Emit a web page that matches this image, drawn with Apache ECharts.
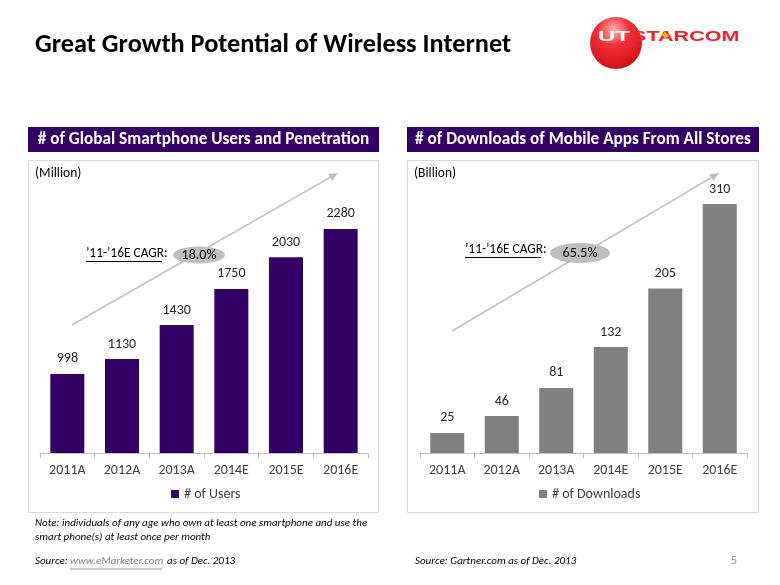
<!DOCTYPE html>
<html><head><meta charset="utf-8">
<script src="https://cdn.jsdelivr.net/npm/echarts@6/dist/echarts.min.js"></script>
<style>html,body{margin:0;padding:0;background:#fff}#c{width:780px;height:585px}</style>
</head><body><div id="c"></div>
<script>
const categories = ['2011A','2012A','2013A','2014E','2015E','2016E'];
const users = [998,1130,1430,1750,2030,2280];
const downloads = [25,46,81,132,205,310];
const usersName = '# of Users';
const downloadsName = '# of Downloads';
const usersCagr = '18.0%';
const downloadsCagr = '65.5%';

const F = 'Carlito, Lato, "Open Sans", sans-serif';
const chart = echarts.init(document.getElementById('c'), null, {renderer:'canvas'});

function arrow(x1,y1,x2,y2){
  const a = Math.atan2(y2-y1,x2-x1), L=9, W=4;
  const bx = x2 - L*Math.cos(a), by = y2 - L*Math.sin(a);
  return [
    {type:'line', shape:{x1,y1,x2:bx,y2:by}, style:{stroke:'#BFBFBF', lineWidth:1.5}, z:1},
    {type:'polygon', shape:{points:[[x2,y2],[bx+W*Math.sin(a),by-W*Math.cos(a)],[bx-W*Math.sin(a),by+W*Math.cos(a)]]}, style:{fill:'#BFBFBF'}, z:1}
  ];
}

const LF = 'bold 15px "Liberation Sans", Arial, sans-serif';
const graphics = [
  {type:'text', left:35, top:32, style:{text:'Great Growth Potential of Wireless Internet', font:'bold 26.3px '+F, fill:'#000'}},
  // logo
  {type:'circle', shape:{cx:616, cy:43, r:26}, style:{fill:{type:'radial',x:0.45,y:0.25,r:0.85,colorStops:[{offset:0,color:'#FFB3AE'},{offset:0.35,color:'#F0323A'},{offset:0.8,color:'#D2161C'},{offset:1,color:'#B01015'}]}}},
  {type:'text', x:598, y:37, scaleX:1.6, style:{text:'UT', font:LF, fill:'#fff', verticalAlign:'middle'}, z:5},
  {type:'text', x:632, y:37, scaleX:1.44, style:{text:'STARCOM', font:LF, fill:'#E8262B', verticalAlign:'middle'}, z:5},
  {type:'polygon', shape:{points:[[665,30],[666.3,33.7],[670,35],[666.3,36.3],[665,40],[663.7,36.3],[660,35],[663.7,33.7]]}, style:{fill:'#F5B800'}, z:6},
  // headers
  {type:'rect', shape:{x:28,y:127,width:351,height:25}, style:{fill:'#330066'}},
  {type:'text', x:203.5, y:139.5, style:{text:'# of Global Smartphone Users and Penetration', font:'bold 17.2px '+F, fill:'#fff', align:'center', verticalAlign:'middle'}},
  {type:'rect', shape:{x:407,y:127,width:352,height:25}, style:{fill:'#330066'}},
  {type:'text', x:583, y:139.5, style:{text:'# of Downloads of Mobile Apps From All Stores', font:'bold 17.2px '+F, fill:'#fff', align:'center', verticalAlign:'middle'}},
  // chart boxes
  {type:'rect', shape:{x:28.5,y:160.5,width:350,height:352}, style:{fill:'none', stroke:'#D9D9D9', lineWidth:1}},
  {type:'rect', shape:{x:407.5,y:160.5,width:351,height:352}, style:{fill:'none', stroke:'#D9D9D9', lineWidth:1}},
  {type:'text', left:35, top:167, style:{text:'(Million)', font:'13.5px '+F, fill:'#000'}},
  {type:'text', left:414, top:167, style:{text:'(Billion)', font:'13.5px '+F, fill:'#000'}},
  ...arrow(72,325,338,173),
  ...arrow(452,331,719,173),
  // CAGR
  {type:'text', x:86, y:254, style:{text:'\u201911-\u201916E CAGR:', font:'13.4px '+F, fill:'#000', verticalAlign:'middle'}},
  {type:'line', shape:{x1:86,y1:261.5,x2:162,y2:261.5}, style:{stroke:'#000', lineWidth:1}},
  {type:'ellipse', shape:{cx:199,cy:255,rx:26,ry:8.5}, style:{fill:'#BFBFBF'}, z:3},
  {type:'text', x:199, y:255, style:{text:usersCagr, font:'14px '+F, fill:'#000', align:'center', verticalAlign:'middle'}, z:4},
  {type:'text', x:465, y:250, style:{text:'\u201911-\u201916E CAGR:', font:'13.4px '+F, fill:'#000', verticalAlign:'middle'}},
  {type:'line', shape:{x1:465,y1:257.5,x2:541,y2:257.5}, style:{stroke:'#000', lineWidth:1}},
  {type:'ellipse', shape:{cx:580,cy:253,rx:30,ry:10}, style:{fill:'#BFBFBF'}, z:3},
  {type:'text', x:580, y:253, style:{text:downloadsCagr, font:'14px '+F, fill:'#000', align:'center', verticalAlign:'middle'}, z:4},
  // notes
  {type:'text', left:35, top:516, style:{text:'Note: individuals of any age who own at least one smartphone and use the\nsmart phone(s) at least once per month', font:'italic 11px '+F, fill:'#000', lineHeight:14}},
  {type:'text', left:35, top:556, style:{text:'Source: ', font:'italic 11px '+F, fill:'#000'}},
  {type:'text', left:70, top:556, style:{text:'www.eMarketer.com', font:'italic 11px '+F, fill:'#7F7F7F'}},
  {type:'line', shape:{x1:70,y1:569,x2:162,y2:569}, style:{stroke:'#7F7F7F', lineWidth:0.8}},
  {type:'text', left:167, top:556, style:{text:'as of Dec. 2013', font:'italic 11px '+F, fill:'#000'}},
  {type:'text', left:415, top:556, style:{text:'Source: Gartner.com as of Dec. 2013', font:'italic 11px '+F, fill:'#000'}},
  {type:'text', left:731, top:555, style:{text:'5', font:'12px '+F, fill:'#8C8C8C'}}
];

const axisCommon = {
  type:'category', data:categories,
  axisLine:{lineStyle:{color:'#BFBFBF'}},
  axisTick:{show:true, alignWithLabel:false, length:5, lineStyle:{color:'#BFBFBF'}},
  axisLabel:{color:'#404040', fontSize:14, fontFamily:F, margin:10}
};

const legendText = {color:'#404040', fontSize:14, fontFamily:F};

chart.setOption({
  animation:false,
  textStyle:{fontFamily:F},
  grid:[
    {left:40, top:204, width:328, height:249},
    {left:420, top:172, width:327, height:281}
  ],
  xAxis:[
    Object.assign({gridIndex:0}, axisCommon),
    Object.assign({gridIndex:1}, axisCommon)
  ],
  yAxis:[
    {gridIndex:0, type:'value', min:300, max:2500, show:false, splitLine:{show:false}},
    {gridIndex:1, type:'value', min:0, max:350, show:false, splitLine:{show:false}}
  ],
  legend:[
    {data:[usersName], left:171, top:487, padding:0, icon:'rect', itemWidth:8, itemHeight:8, itemGap:4, textStyle:legendText},
    {data:[downloadsName], left:539, top:487, padding:0, icon:'rect', itemWidth:8, itemHeight:8, itemGap:4, textStyle:legendText}
  ],
  series:[
    {name:usersName, type:'bar', xAxisIndex:0, yAxisIndex:0, data:users, barWidth:34, itemStyle:{color:'#330066'},
     label:{show:true, position:'top', distance:8, color:'#262626', fontSize:14, fontFamily:F}},
    {name:downloadsName, type:'bar', xAxisIndex:1, yAxisIndex:1, data:downloads, barWidth:34, itemStyle:{color:'#808080'},
     label:{show:true, position:'top', distance:8, color:'#262626', fontSize:14, fontFamily:F}}
  ],
  graphic:graphics
});
</script></body></html>
